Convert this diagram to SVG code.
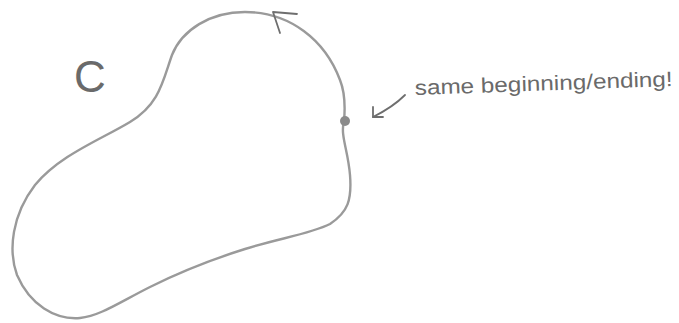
<svg xmlns="http://www.w3.org/2000/svg" width="679" height="323" viewBox="0 0 679 323">
  <style>
    .pencil { fill: none; stroke: #9a9a9a; stroke-width: 2.4; stroke-linecap: round; stroke-linejoin: round; }
    .ink { fill: none; stroke: #6e6e6e; stroke-width: 1.8; stroke-linecap: round; stroke-linejoin: round; }
    .hand { font-family: "Liberation Sans", Arial, sans-serif; fill: #6a6a6a; }
  </style>
  <rect width="679" height="323" fill="#ffffff"/>
  <g id="curve">
    <path class="pencil" d="M 344 121 C 340 135, 348 150, 350 175 C 352 200, 348 212, 330 224 C 310 234, 280 238, 245 249 C 210 260, 180 272, 150 287 C 120 302, 100 316, 80 318 C 55 320, 30 305, 17 275 C 8 250, 12 215, 35 185 C 60 155, 100 140, 130 122 C 160 104, 163 80, 172 55 C 182 30, 210 12, 245 12 C 290 12, 325 40, 340 80 C 346 95, 345 110, 344 121 Z"/>
  </g>
  <g id="direction-arrow">
    <path class="ink" d="M 297 14 L 273 12 L 280 33"/>
  </g>
  <g id="start-point">
    <circle cx="345" cy="121" r="5" fill="#8a8a8a"/>
  </g>
  <g id="label-c">
    <text class="hand" x="74" y="92" font-size="44">C</text>
  </g>
  <g id="connectors">
    <path class="ink" d="M 405 95 C 395 105, 385 111, 373 117"/>
    <path class="ink" d="M 373 107 L 373 117 L 383 117"/>
  </g>
  <g id="note">
    <text class="hand" x="415" y="95" font-size="21" textLength="258" lengthAdjust="spacingAndGlyphs" transform="rotate(-2 415 95)">same beginning/ending!</text>
  </g>
</svg>
